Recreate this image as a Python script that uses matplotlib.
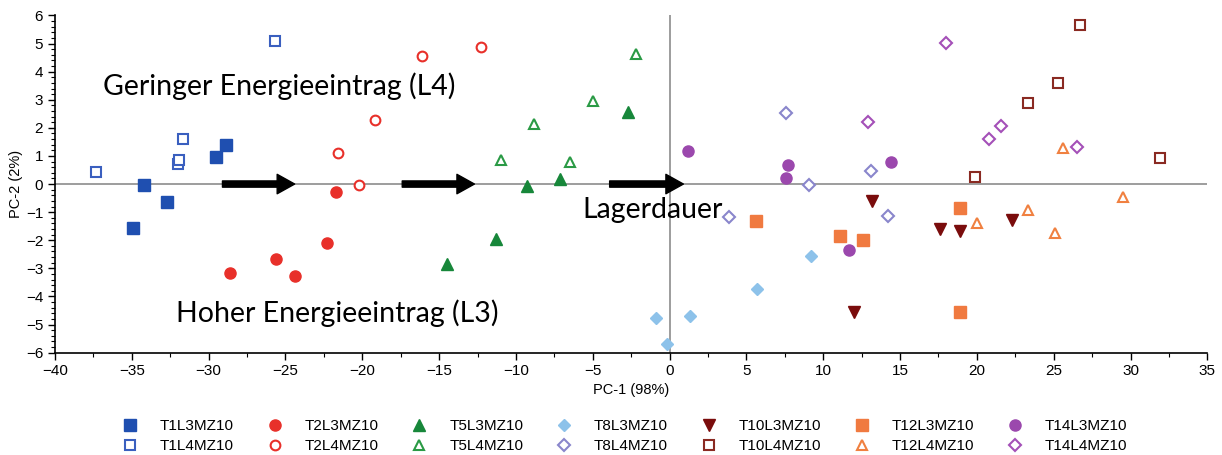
import matplotlib
matplotlib.use("Agg")
import matplotlib.pyplot as plt
from matplotlib.ticker import MultipleLocator

plt.rcParams['font.family'] = ['Liberation Sans', 'DejaVu Sans']

# PCA scores (PC-1, PC-2)
t1l3_x = [-34.9, -34.2, -32.7, -29.5, -28.9]
t1l3_y = [-1.55, -0.05, -0.65, 0.95, 1.4]
t1l4_x = [-37.3, -32.0, -31.9, -31.7, -25.7]
t1l4_y = [0.42, 0.72, 0.85, 1.6, 5.08]
t2l3_x = [-28.6, -25.6, -24.4, -22.3, -21.7]
t2l3_y = [-3.18, -2.67, -3.28, -2.1, -0.3]
t2l4_x = [-21.6, -20.2, -19.2, -16.1, -12.3]
t2l4_y = [1.09, -0.05, 2.27, 4.57, 4.89]
t5l3_x = [-14.5, -11.3, -9.3, -7.1, -2.7]
t5l3_y = [-2.85, -1.96, -0.07, 0.18, 2.55]
t5l4_x = [-11.0, -8.8, -6.5, -5.0, -2.2]
t5l4_y = [0.85, 2.14, 0.8, 2.97, 4.62]
t8l3_x = [-0.9, -0.2, 1.3, 5.7, 9.2]
t8l3_y = [-4.77, -5.69, -4.7, -3.74, -2.56]
t8l4_x = [3.9, 9.1, 7.6, 13.1, 14.2]
t8l4_y = [-1.19, -0.05, 2.52, 0.46, -1.13]
t10l3_x = [12.0, 13.2, 17.6, 18.9, 22.3]
t10l3_y = [-4.55, -0.6, -1.59, -1.67, -1.27]
t10l4_x = [19.9, 23.3, 25.3, 26.7, 31.9]
t10l4_y = [0.26, 2.87, 3.6, 5.65, 0.93]
t12l3_x = [5.6, 11.1, 12.6, 18.9, 18.9]
t12l3_y = [-1.33, -1.84, -1.99, -0.87, -4.57]
t12l4_x = [20.0, 23.3, 25.1, 25.6, 29.5]
t12l4_y = [-1.38, -0.93, -1.76, 1.27, -0.47]
t14l3_x = [1.2, 7.7, 7.6, 11.7, 14.4]
t14l3_y = [1.19, 0.68, 0.2, -2.35, 0.77]
t14l4_x = [12.9, 18.0, 20.8, 21.6, 26.5]
t14l4_y = [2.21, 5.03, 1.6, 2.07, 1.31]

# (label, x, y, marker, colour, filled, size)
series = [
    ("T1L3MZ10", t1l3_x, t1l3_y, "s", "#1f4fb0", True, 8),
    ("T1L4MZ10", t1l4_x, t1l4_y, "s", "#3a5fbf", False, 7),
    ("T2L3MZ10", t2l3_x, t2l3_y, "o", "#e8302a", True, 8),
    ("T2L4MZ10", t2l4_x, t2l4_y, "o", "#e8302a", False, 7),
    ("T5L3MZ10", t5l3_x, t5l3_y, "^", "#17873a", True, 8),
    ("T5L4MZ10", t5l4_x, t5l4_y, "^", "#2a9a45", False, 7),
    ("T8L3MZ10", t8l3_x, t8l3_y, "D", "#8dc2ea", True, 6.5),
    ("T8L4MZ10", t8l4_x, t8l4_y, "D", "#8a86cc", False, 6),
    ("T10L3MZ10", t10l3_x, t10l3_y, "v", "#7a0c0c", True, 8),
    ("T10L4MZ10", t10l4_x, t10l4_y, "s", "#8a2a22", False, 7),
    ("T12L3MZ10", t12l3_x, t12l3_y, "s", "#f07a40", True, 8),
    ("T12L4MZ10", t12l4_x, t12l4_y, "^", "#f08040", False, 7),
    ("T14L3MZ10", t14l3_x, t14l3_y, "o", "#9b48ad", True, 8),
    ("T14L4MZ10", t14l4_x, t14l4_y, "D", "#a450b8", False, 6),
]

arrows = [(-29.1, -24.4), (-17.4, -12.7), (-3.9, 0.9)]

fig = plt.figure(figsize=(12.22, 4.55), dpi=100)
ax = fig.add_axes([0.045, 0.225, 0.943, 0.741])

ax.axhline(0, color="#8c8c8c", lw=1.2, zorder=1)
ax.axvline(0, color="#8c8c8c", lw=1.2, zorder=1)

for label, xs, ys, m, c, filled, ms in series:
    if filled:
        ax.plot(xs, ys, linestyle="none", marker=m, markersize=ms,
                color=c, markeredgecolor=c, label=label, zorder=3)
    else:
        ax.plot(xs, ys, linestyle="none", marker=m, markersize=ms,
                markerfacecolor="white", markeredgecolor=c,
                markeredgewidth=1.5, label=label, zorder=3)

for x0, x1 in arrows:
    ax.annotate("", xy=(x1, 0), xytext=(x0, 0),
                arrowprops=dict(arrowstyle="simple,head_width=1.0,head_length=0.9,tail_width=0.32",
                                color="black", mutation_scale=14, shrinkA=0, shrinkB=0),
                zorder=4)

tfont = ['Lato', 'DejaVu Sans']
ax.text(-36.9, 3.5, "Geringer Energieeintrag (L4)", fontsize=20.5, family=tfont,
        va="center", ha="left")
ax.text(-32.1, -4.6, "Hoher Energieeintrag (L3)", fontsize=20.5, family=tfont,
        va="center", ha="left")
ax.text(-5.65, -0.93, "Lagerdauer", fontsize=20.5, family=tfont,
        va="center", ha="left")

ax.set_xlim(-40, 35)
ax.set_ylim(-6, 6)
ax.xaxis.set_major_locator(MultipleLocator(5))
ax.xaxis.set_minor_locator(MultipleLocator(2.5))
ax.yaxis.set_major_locator(MultipleLocator(1))
ax.yaxis.set_minor_locator(MultipleLocator(0.2))
ax.tick_params(which="major", length=5, width=1, labelsize=11)
ax.tick_params(which="minor", length=3, width=0.8)
for s in ["top", "right"]:
    ax.spines[s].set_visible(False)
for s in ["left", "bottom"]:
    ax.spines[s].set_linewidth(1.2)

ax.set_xlabel("PC-1 (98%)", fontsize=10.5, labelpad=3)
ax.set_ylabel("PC-2 (2%)", fontsize=10.5, labelpad=2)

fig.legend(loc="upper left", bbox_to_anchor=(115 / 1222, 1 - 419 / 455), ncol=7,
           frameon=False, fontsize=11, handlelength=2.0, handletextpad=0.95,
           columnspacing=1.67, labelspacing=0.42, borderpad=0, borderaxespad=0)

fig.savefig("out.png", dpi=100)
